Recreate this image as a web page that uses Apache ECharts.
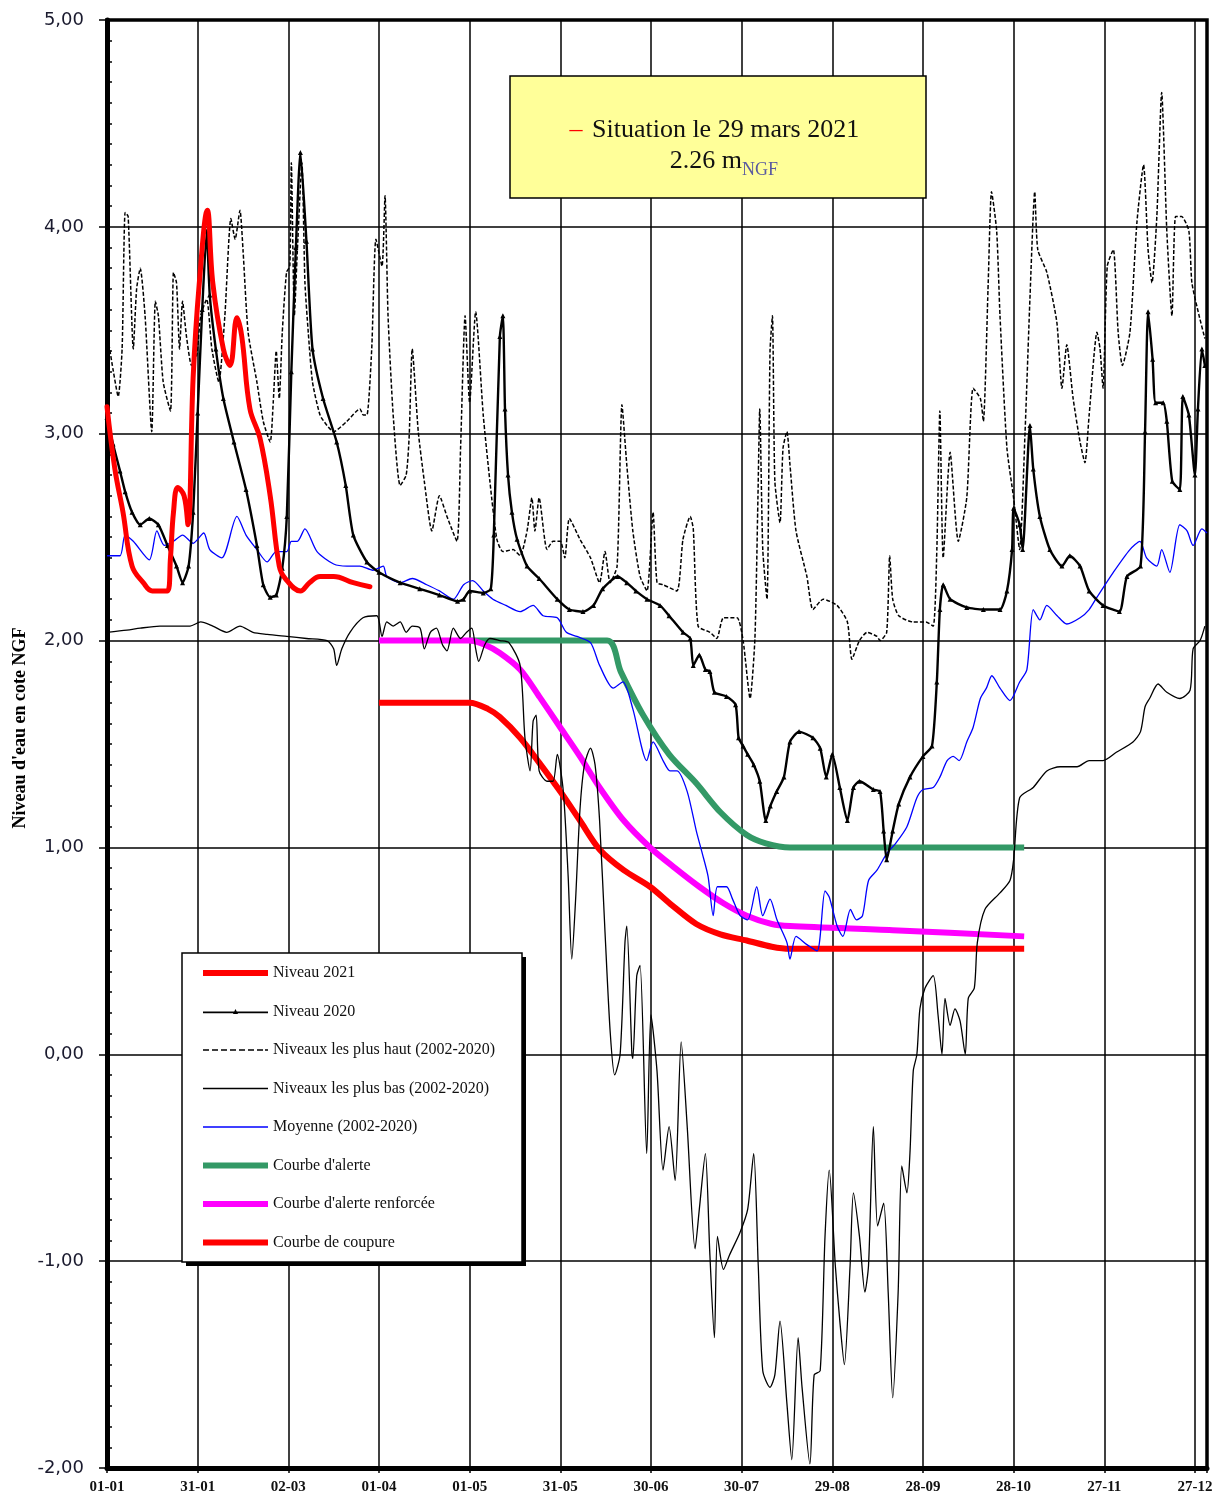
<!DOCTYPE html>
<html>
<head>
<meta charset="utf-8">
<script src="https://cdn.jsdelivr.net/npm/echarts@6/dist/echarts.min.js"></script>
<style>
html,body{margin:0;padding:0;background:#fff;}
#chart{width:1223px;height:1500px;}
</style>
</head>
<body>
<div id="chart"></div>
<script>
// x = day of year (0 = 01-01), y = water level (m NGF)
const tickLabels = ['01-01','31-01','02-03','01-04','01-05','31-05','30-06','30-07','29-08','28-09','28-10','27-11','27-12'];

const niveau2021 = [[0,3.13],[2.6,2.83],[5.3,2.62],[8.3,2.36],[12,2.28],[15,2.24],[20,2.24],[21,2.4],[22,2.62],[23.4,2.74],[25.5,2.70],[26.8,2.56],[28.5,3.27],[30.5,3.72],[33.2,4.08],[35,3.73],[38.5,3.41],[40.7,3.33],[43,3.56],[44.6,3.47],[47.3,3.12],[50.6,2.98],[54,2.70],[57,2.36],[59,2.30],[64,2.24],[67,2.28],[70.5,2.31],[75,2.31],[81.5,2.28],[87,2.26]];

const niveau2020 = [[0,3.08],[2,2.95],[4.3,2.82],[6,2.72],[8.3,2.62],[11,2.56],[14,2.59],[17,2.56],[20,2.46],[23,2.36],[25,2.28],[27,2.36],[28.5,2.62],[30,3.1],[31.5,3.6],[33,3.98],[34,3.67],[36,3.41],[38.5,3.17],[42,2.96],[46,2.73],[49.6,2.46],[51.7,2.27],[54,2.21],[56,2.22],[58,2.35],[59.5,2.6],[61,3.3],[62.5,3.9],[64,4.36],[66,3.93],[68,3.41],[71.5,3.17],[76,2.96],[79,2.75],[81.5,2.51],[86,2.38],[90,2.33],[97,2.28],[103.5,2.25],[110,2.22],[116,2.19],[118,2.2],[120,2.24],[124.5,2.23],[127,2.25],[128,2.51],[130,3.47],[131,3.57],[131.7,3.12],[132.7,2.80],[134,2.62],[135.7,2.49],[139,2.36],[143,2.30],[149,2.20],[153,2.15],[157.5,2.14],[161,2.17],[164,2.25],[169,2.31],[172,2.28],[175,2.24],[178.7,2.20],[183,2.17],[186,2.12],[190.6,2.04],[193,2.01],[194,1.88],[196,1.93],[198,1.86],[199.5,1.85],[201,1.75],[205,1.73],[208,1.69],[209,1.53],[210.5,1.49],[212,1.45],[214,1.40],[216,1.32],[218,1.13],[219.5,1.2],[221.6,1.27],[224,1.34],[226,1.51],[229,1.56],[233.6,1.53],[236,1.48],[238,1.34],[240,1.45],[242.5,1.29],[245,1.13],[247,1.29],[249,1.32],[253.6,1.28],[255.8,1.27],[257,1.08],[258,0.94],[260,1.08],[262,1.21],[265.7,1.34],[270,1.44],[273,1.49],[274.6,1.80],[275.6,2.15],[276.7,2.27],[279,2.20],[284.5,2.16],[290,2.15],[295.5,2.15],[297.8,2.24],[299.5,2.44],[300,2.64],[302,2.56],[303,2.44],[305.4,3.04],[306.5,2.83],[308.7,2.60],[312,2.44],[316,2.36],[318.6,2.41],[322,2.36],[325,2.24],[329.6,2.17],[335,2.14],[337.5,2.31],[342,2.36],[343.5,3.01],[344.5,3.59],[346,3.36],[347,3.15],[349.5,3.15],[350.7,3.06],[352.5,2.77],[355,2.73],[356,3.18],[358,3.09],[360,2.80],[361,3.12],[362.3,3.41],[363.3,3.33]];

const niveauxHaut = [[0,3.49],[2,3.31],[3.7,3.18],[5,3.41],[6,4.07],[7,4.05],[8.7,3.41],[9.8,3.70],[11,3.80],[12.6,3.57],[14.8,3.01],[16,3.64],[17,3.57],[18.6,3.25],[21,3.11],[22,3.78],[23,3.73],[24,3.41],[25,3.64],[26.3,3.47],[28,3.33],[29.7,3.38],[31,3.57],[33,3.65],[34.7,3.41],[37,3.25],[39,3.57],[41,4.04],[42.4,3.94],[44,4.08],[45,3.89],[46.7,3.49],[49.6,3.25],[51.7,3.06],[54,2.96],[55,3.15],[56,3.40],[57,3.17],[58,3.49],[59.4,3.78],[60.5,3.81],[61,4.31],[62,3.57],[63,3.89],[64.5,4.31],[65.5,3.73],[66.6,3.49],[68,3.25],[70.5,3.09],[72.8,3.04],[75,3.01],[79.4,3.06],[83.7,3.12],[84.8,3.09],[86,3.09],[87.6,3.41],[89,3.94],[91,3.81],[92,4.15],[93,3.57],[94.7,3.09],[97,2.75],[99,2.80],[100,2.99],[101,3.41],[103,3.01],[105,2.77],[107.5,2.53],[110,2.70],[112.5,2.60],[115.8,2.48],[117,2.93],[118.5,3.57],[120,3.15],[122,3.59],[124.5,3.09],[126.7,2.77],[129,2.49],[131,2.43],[134.4,2.44],[136.7,2.41],[139,2.53],[140.6,2.69],[141.6,2.53],[143,2.69],[145.6,2.44],[147.6,2.48],[150,2.48],[151.5,2.40],[153,2.59],[156.5,2.49],[160,2.40],[163,2.28],[164.8,2.43],[166.5,2.28],[168.8,2.36],[170.4,3.14],[172,2.85],[174,2.53],[176.4,2.31],[178.7,2.24],[180.7,2.62],[182,2.28],[184,2.27],[188.6,2.24],[190.6,2.49],[193,2.60],[194,2.54],[195.6,2.07],[199.5,2.04],[201.8,2.01],[204,2.11],[208.5,2.11],[210.5,2.00],[212.8,1.72],[214.4,2.01],[215.4,2.69],[216,3.12],[217,2.44],[218.4,2.20],[219.4,3.40],[220.2,3.57],[221,2.77],[222.7,2.57],[223.7,2.93],[225,3.01],[226,2.85],[228,2.53],[231.6,2.31],[233.6,2.15],[237,2.20],[241.6,2.17],[245,2.09],[246.5,1.91],[249,2.00],[251.5,2.04],[254.8,2.02],[255.8,2.00],[258,2.04],[259,2.41],[260,2.20],[262,2.12],[266.7,2.09],[271,2.09],[273.4,2.07],[274.6,2.44],[275.6,3.11],[276.7,2.40],[279,2.91],[281.7,2.48],[284.5,2.69],[286.6,3.22],[289,3.17],[290,3.06],[291.6,3.73],[292.7,4.17],[294.4,3.98],[295.5,3.57],[297.8,2.93],[300,2.69],[302,2.44],[303.8,3.01],[305.4,3.65],[307,4.17],[308,3.89],[311,3.78],[314.3,3.54],[316,3.22],[317.6,3.43],[319.7,3.17],[322,2.96],[323.6,2.86],[325,3.09],[327.6,3.49],[328.6,3.41],[329.6,3.22],[331,3.81],[333,3.89],[334.6,3.49],[336,3.33],[338.5,3.49],[340.8,4.02],[343,4.30],[344.5,3.89],[345.8,3.73],[347.4,4.05],[349,4.65],[350.7,3.98],[352.4,3.57],[353.6,4.05],[355.6,4.05],[358,3.98],[359,3.73],[361.4,3.57],[363.3,3.46]];

const niveauxBas = [[0,2.04],[6.6,2.05],[11,2.06],[17.5,2.07],[24,2.07],[27.5,2.07],[31,2.09],[35,2.07],[39.6,2.04],[44,2.07],[48.3,2.04],[53,2.03],[59.5,2.02],[66,2.01],[72.8,2.00],[75,1.96],[76,1.88],[77.7,1.96],[80.4,2.04],[84.7,2.11],[89.3,2.12],[91,2.02],[92.6,2.09],[94.7,2.07],[97,2.09],[99,2.04],[101,2.07],[103.6,2.06],[105,1.96],[107,2.04],[109,2.06],[111,1.98],[112.5,1.95],[114.6,2.06],[117,2.01],[119,2.04],[120.7,2.06],[122,1.96],[123,1.90],[125,1.98],[126.7,2.01],[130,2.0],[133,1.99],[136.7,1.88],[138.3,1.53],[140,1.37],[141,1.61],[142,1.64],[143,1.37],[145.6,1.32],[147.6,1.32],[149,1.45],[151,1.27],[152.6,0.86],[153.8,0.46],[155,0.73],[156.5,1.18],[158,1.40],[160,1.48],[161.5,1.40],[163,1.13],[164.8,0.59],[166.5,0.11],[168,-0.10],[169.8,0.00],[171.4,0.54],[172,0.62],[173.7,0.00],[174,-0.02],[175.3,0.38],[176.4,0.43],[178.6,-0.48],[180,0.19],[182,-0.08],[184,-0.56],[186,-0.35],[188,-0.61],[190,0.06],[192,-0.35],[194.6,-0.94],[196,-0.75],[198,-0.48],[199.5,-0.97],[201,-1.37],[202,-0.88],[204,-1.04],[206,-0.97],[209.5,-0.86],[212,-0.75],[214,-0.48],[215.5,-1.02],[217,-1.53],[219.4,-1.61],[221,-1.55],[222.7,-1.29],[225,-1.69],[226.6,-1.96],[228.7,-1.37],[230,-1.61],[232.6,-1.98],[234,-1.55],[236,-1.53],[237.6,-0.88],[239,-0.56],[241,-1.02],[242.5,-1.29],[244,-1.50],[245.9,-1.02],[247,-0.67],[249,-0.88],[250.8,-1.15],[252,-1.02],[253.6,-0.35],[255,-0.83],[257,-0.72],[258.5,-1.15],[260,-1.66],[261.8,-1.15],[263,-0.54],[264.7,-0.67],[265.7,-0.48],[266.8,-0.08],[268,0.00],[269,0.22],[270.7,0.32],[273.4,0.38],[275,0.19],[276.3,0.00],[277.3,0.27],[279,0.14],[280.6,0.22],[282.3,0.16],[284,0.00],[285,0.27],[287,0.32],[288,0.54],[290.5,0.70],[295.5,0.78],[298.8,0.84],[300,0.94],[302,1.24],[306.5,1.29],[311,1.37],[315.4,1.39],[321,1.39],[325,1.42],[329.6,1.42],[334,1.46],[339.5,1.51],[342,1.56],[343.5,1.68],[345,1.72],[347.8,1.79],[350.7,1.75],[355,1.72],[358.4,1.76],[359.4,1.96],[361.7,2.00],[363.3,2.07]];

const moyenne = [[0,2.41],[4.3,2.41],[6,2.51],[8.7,2.48],[14,2.39],[16.5,2.53],[19,2.46],[22,2.48],[25,2.51],[28.5,2.47],[32,2.52],[34,2.44],[38,2.40],[43,2.60],[46,2.51],[49.6,2.44],[53,2.38],[56,2.43],[59.5,2.43],[61,2.48],[63,2.48],[65.5,2.54],[69.5,2.43],[75,2.37],[79.4,2.36],[83.7,2.36],[88,2.34],[91.4,2.36],[92.6,2.31],[97,2.28],[101,2.30],[105.8,2.27],[110,2.24],[114.6,2.20],[118,2.27],[121,2.29],[124.5,2.24],[127.7,2.20],[132,2.17],[136.7,2.14],[141,2.17],[144.3,2.12],[149,2.11],[152,2.04],[155.5,2.02],[160,1.99],[163,1.88],[167.5,1.77],[170.7,1.80],[174,1.67],[178.6,1.42],[180.7,1.51],[184,1.42],[186.3,1.37],[188.6,1.37],[192,1.27],[195,1.08],[197,0.97],[198.9,0.86],[200.6,0.67],[202,0.81],[205,0.81],[207,0.75],[209.5,0.67],[212,0.65],[215,0.81],[217,0.67],[219.4,0.75],[221.7,0.65],[225,0.54],[226,0.46],[228,0.57],[231.6,0.53],[235,0.50],[237.6,0.79],[239,0.76],[241.6,0.62],[243.5,0.57],[246,0.70],[248,0.65],[250,0.67],[252,0.84],[254.8,0.89],[258,0.97],[261,1.02],[264.7,1.10],[268,1.24],[270,1.28],[273.4,1.29],[275.6,1.34],[278,1.42],[280,1.44],[282,1.42],[284.5,1.51],[286.6,1.58],[289,1.72],[291,1.77],[292.8,1.83],[295.5,1.77],[298.8,1.71],[302,1.80],[304.4,1.86],[306.5,2.15],[308.7,2.10],[311,2.17],[314.4,2.12],[317.6,2.08],[322,2.11],[325,2.15],[327.6,2.21],[333,2.33],[338.5,2.44],[341.8,2.48],[344,2.40],[347.4,2.36],[349,2.44],[351.7,2.33],[355,2.56],[357.4,2.53],[359.4,2.46],[362.3,2.54],[364,2.52]];

const courbeAlerte = [[120,2.00],[165.5,2.00],[170,1.85],[177.4,1.64],[186,1.45],[195,1.31],[203,1.17],[211.7,1.06],[218,1.02],[226,1.00],[303.5,1.00]];

const courbeAlerteRenforcee = [[90,2.00],[120,2.00],[125,1.98],[130,1.94],[136.7,1.86],[143,1.73],[150,1.58],[156.5,1.44],[163,1.29],[171,1.13],[179.7,1.00],[188,0.90],[196,0.81],[204,0.73],[211.7,0.67],[220,0.63],[226,0.62],[260,0.60],[303.5,0.57]];

const courbeCoupure = [[90,1.70],[120,1.70],[126,1.67],[130,1.63],[136.7,1.53],[143,1.41],[150,1.27],[156.5,1.13],[163,0.99],[171,0.89],[179.7,0.81],[187,0.72],[195,0.63],[203,0.58],[211.7,0.55],[220,0.52],[226,0.51],[303.5,0.51]];

const chart = echarts.init(document.getElementById('chart'), null, {renderer:'canvas'});

const serifFont = "'Liberation Serif','Times New Roman',serif";

// legend icon shapes (drawn line samples)
const iconThick = 'path://M0,0h65v6h-65z';
const iconThin = 'path://M0,0h65v1.4h-65z';
const iconDash = 'path://M0,0h6v1.6h-6z M9,0h6v1.6h-6z M18,0h6v1.6h-6z M27,0h6v1.6h-6z M36,0h6v1.6h-6z M45,0h6v1.6h-6z M54,0h6v1.6h-6z M62,0h3v1.6h-3z';
const iconMarker = 'path://M0,2.6h65v1.6h-65z M30,5 L32.5,0 L35,5z';

const option = {
  animation: false,
  backgroundColor: '#fff',
  grid: {left:107, right:16, top:20, bottom:32, show:true, borderColor:'#000', borderWidth:3.5, backgroundColor:'transparent'},
  xAxis: {
    type:'value', min:0, max:364, interval:30,
    axisLine:{show:true, onZero:false, lineStyle:{color:'#000', width:5}},
    axisTick:{show:true, length:5, lineStyle:{color:'#000', width:1.5}},
    splitLine:{show:true, lineStyle:{color:'#000', width:1.5}},
    axisLabel:{
      margin:12, color:'#111', fontFamily:serifFont, fontWeight:'bold', fontSize:15,
      formatter: function(v){ return (v % 30 === 0 && v/30 < tickLabels.length) ? tickLabels[v/30] : ''; }
    }
  },
  yAxis: [{
    type:'value', min:-2, max:5, interval:1,
    axisLine:{show:true, lineStyle:{color:'#000', width:5}},
    axisTick:{show:true, length:8, lineStyle:{color:'#000', width:1.5}},
    splitLine:{show:true, lineStyle:{color:'#000', width:1.5}},
    axisLabel:{margin:23, color:'#1a1a2e', fontFamily:"'DejaVu Sans',sans-serif", fontSize:18,
      formatter: function(v){ return v.toFixed(2).replace('.', ','); }}
  },{
    type:'value', min:-2, max:5, interval:1, position:'left',
    axisLine:{show:false}, axisLabel:{show:false}, splitLine:{show:false},
    axisTick:{show:false, inside:true},
    minorTick:{show:true, splitNumber:10, length:5, lineStyle:{color:'#000', width:1.5}}
  }],
  legend: {
    orient:'vertical', left:182, top:953, z:10,
    padding:[12,22,11,21], itemWidth:65, itemHeight:14, itemGap:22.5,
    backgroundColor:'transparent', borderWidth:0,
    textStyle:{fontFamily:serifFont, fontSize:16, color:'#111'},
    data:[
      {name:'Niveau 2021', icon:iconThick, itemStyle:{color:'#FF0000', borderWidth:0}},
      {name:'Niveau 2020', icon:iconMarker, itemStyle:{color:'#000', borderWidth:0}},
      {name:'Niveaux les plus haut (2002-2020)', icon:iconDash, itemStyle:{color:'#000', borderWidth:0}},
      {name:'Niveaux les plus bas (2002-2020)', icon:iconThin, itemStyle:{color:'#000', borderWidth:0}},
      {name:'Moyenne (2002-2020)', icon:iconThin, itemStyle:{color:'#0000FF', borderWidth:0}},
      {name:"Courbe d'alerte", icon:iconThick, itemStyle:{color:'#339966', borderWidth:0}},
      {name:"Courbe d'alerte renforcée", icon:iconThick, itemStyle:{color:'#FF00FF', borderWidth:0}},
      {name:'Courbe de coupure', icon:iconThick, itemStyle:{color:'#FF0000', borderWidth:0}}
    ]
  },
  graphic: [
    {type:'rect', shape:{x:186, y:957, width:340, height:309}, style:{fill:'#000'}, z:8},
    {type:'rect', shape:{x:182, y:953, width:340, height:309}, style:{fill:'#fff', stroke:'#000', lineWidth:1.5}, z:9},
    {type:'text', x:20, y:728, rotation:Math.PI/2, style:{text:"Niveau d'eau en cote NGF", fill:'#000', font:"bold 18px 'Liberation Serif',serif", align:'center', verticalAlign:'middle'}, z:10},
    {type:'rect', shape:{x:510, y:76, width:416, height:122}, style:{fill:'#FFFF99', stroke:'#000', lineWidth:1.5}, z:100},
    {type:'text', x:576, y:130, style:{text:'–', fill:'#FF0000', font:"26px 'Liberation Serif',serif", align:'center', verticalAlign:'middle'}, z:101},
    {type:'text', x:592, y:130, style:{text:'Situation le 29 mars 2021', fill:'#111', font:"26px 'Liberation Serif',serif", align:'left', verticalAlign:'middle'}, z:101},
    {type:'text', x:742, y:161, style:{text:'2.26 m', fill:'#111', font:"26px 'Liberation Serif',serif", align:'right', verticalAlign:'middle'}, z:101},
    {type:'text', x:742, y:170, style:{text:'NGF', fill:'#5a5aa0', font:"18px 'Liberation Serif',serif", align:'left', verticalAlign:'middle'}, z:101}
  ],
  series: [
    {name:"Courbe d'alerte", type:'line', data:courbeAlerte, smooth:0.3, symbol:'none', lineStyle:{color:'#339966', width:6}, itemStyle:{color:'#339966'}, z:2},
    {name:"Courbe d'alerte renforcée", type:'line', data:courbeAlerteRenforcee, smooth:0.3, symbol:'none', lineStyle:{color:'#FF00FF', width:6}, itemStyle:{color:'#FF00FF'}, z:2},
    {name:'Courbe de coupure', type:'line', data:courbeCoupure, smooth:0.3, symbol:'none', lineStyle:{color:'#FF0000', width:6}, itemStyle:{color:'#FF0000'}, z:2},
    {name:'Niveaux les plus bas (2002-2020)', type:'line', data:niveauxBas, smooth:0.25, symbol:'none', lineStyle:{color:'#000', width:1.3}, itemStyle:{color:'#000'}, z:3},
    {name:'Niveaux les plus haut (2002-2020)', type:'line', data:niveauxHaut, smooth:0.2, symbol:'none', lineStyle:{color:'#000', width:1.5, type:[4,2]}, itemStyle:{color:'#000'}, z:3},
    {name:'Moyenne (2002-2020)', type:'line', data:moyenne, smooth:0.25, symbol:'none', lineStyle:{color:'#0000FF', width:1.3}, itemStyle:{color:'#0000FF'}, z:4},
    {name:'Niveau 2020', type:'line', data:niveau2020, smooth:0.2, symbol:'triangle', symbolSize:5, showSymbol:true, lineStyle:{color:'#000', width:2.4}, itemStyle:{color:'#000'}, z:5},
    {name:'Niveau 2021', type:'line', data:niveau2021, smooth:0.4, symbol:'none', lineStyle:{color:'#FF0000', width:5, cap:'round', join:'round'}, itemStyle:{color:'#FF0000'}, z:6}
  ]
};
chart.setOption(option);
</script>
</body>
</html>
